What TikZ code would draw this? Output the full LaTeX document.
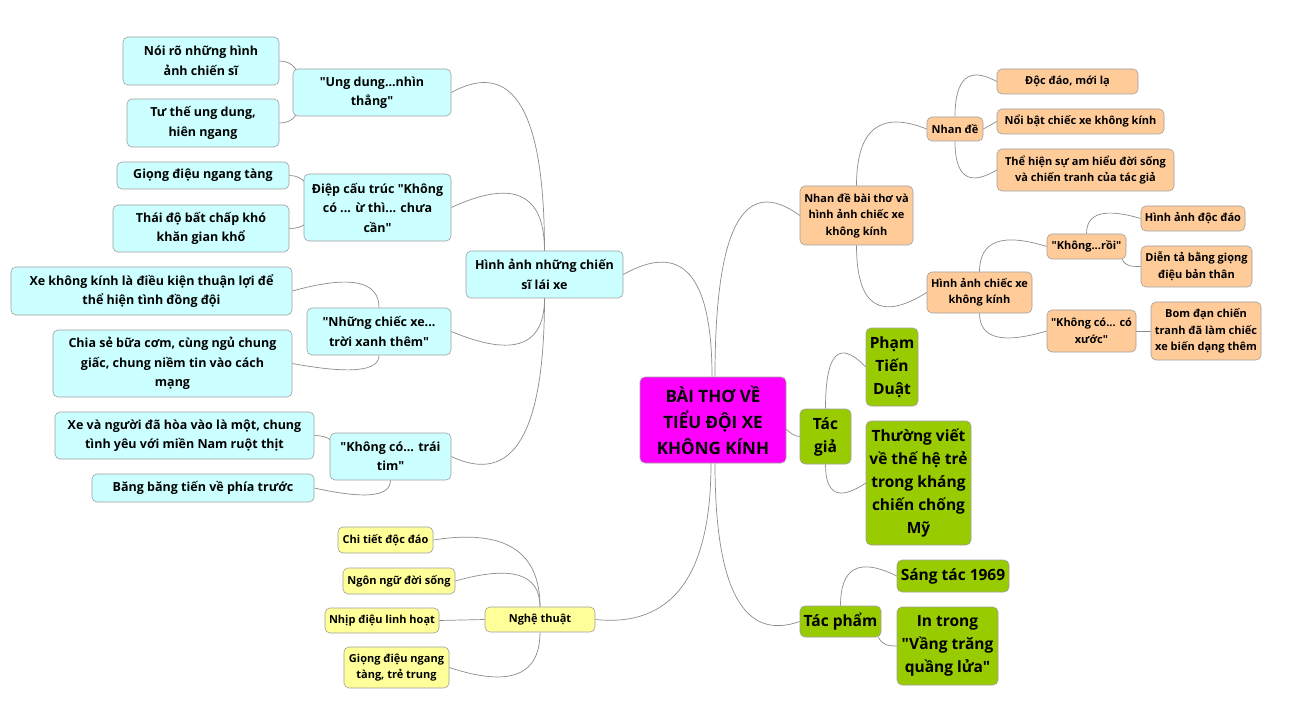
\documentclass[tikz,border=0pt]{standalone}
\usepackage{fontspec}
\setmainfont{Open Sans}[Ligatures=TeXOff]
\usetikzlibrary{calc,backgrounds}
\newcommand{\myq}{\symbol{34}}
\definecolor{cblue}{HTML}{CCFFFF}
\definecolor{corange}{HTML}{FFCC99}
\definecolor{cyellow}{HTML}{FFFF99}
\definecolor{cgreen}{HTML}{99CC00}
\definecolor{cmag}{HTML}{FF00FF}
\definecolor{cborder}{HTML}{A0A0A0}
\definecolor{cline}{HTML}{8C8C8C}
\tikzset{
  box/.style={draw=cborder, line width=0.6pt, rounded corners=5pt, align=center, inner sep=0pt},
  bluebox/.style={box, fill=cblue, font=\fontsize{12.5}{19.5}\selectfont\bfseries},
  orbox/.style={box, fill=corange, font=\fontsize{11}{16.5}\selectfont\bfseries},
  yebox/.style={box, fill=cyellow, font=\fontsize{11}{16.5}\selectfont\bfseries},
  grbox/.style={box, fill=cgreen, font=\fontsize{15.5}{23}\selectfont\bfseries},
  mgbox/.style={box, fill=cmag, font=\fontsize{17}{26}\selectfont\bfseries},
  sz/.style 2 args={minimum width=#1pt, minimum height=#2pt},
  conn/.style={draw=cline, line width=0.7pt},
  cq/.style={to path={let \p1=(\tikztostart), \p2=(\tikztotarget) in
    .. controls (\x1,{\y1+0.6667*(\y2-\y1)-0.6667*(#1pt)})
       and ({\x2+0.6667*(\x1-\x2)},{\y2-0.6667*(#1pt)}) .. (\tikztotarget)}}
}
\begin{document}
\begin{tikzpicture}[x=1pt,y=-1pt]
\useasboundingbox (0,0) rectangle (1302,714);
% central
\node[mgbox, sz={146}{86}] (c) at (713,420) {BÀI THƠ VỀ\\TIỂU ĐỘI XE\\KHÔNG KÍNH};
% left blue branch
\node[bluebox, sz={157}{47}] (hs) at (544.5,274.5) {Hình ảnh những chiến\\sĩ lái xe};
\node[bluebox, sz={158}{47}] (ud) at (372,92.5) {\myq Ung dung...nhìn\\thẳng\myq};
\node[bluebox, sz={156}{48}] (noiro) at (201,61) {Nói rõ những hình\\ảnh chiến sĩ};
\node[bluebox, sz={152}{48}] (tuthe) at (203,123) {Tư thế ung dung,\\hiên ngang};
\node[bluebox, sz={147}{67}] (dc) at (377.5,207.5) {Điệp cấu trúc \myq Không\\có ... ừ thì... chưa\\cần\myq};
\node[bluebox, sz={172}{27}] (giong) at (203,175.5) {Giọng điệu ngang tàng};
\node[bluebox, sz={176}{47}] (thaido) at (201,228.5) {Thái độ bất chấp khó\\khăn gian khổ};
\node[bluebox, sz={144}{47}] (nc) at (379,331.5) {\myq Những chiếc xe...\\trời xanh thêm\myq};
\node[bluebox, sz={281}{48}] (xekk) at (151.5,291) {Xe không kính là điều kiện thuận lợi để\\thể hiện tình đồng đội};
\node[bluebox, sz={239}{67}] (chiase) at (172.5,363.5) {Chia sẻ bữa cơm, cùng ngủ chung\\giấc, chung niềm tin vào cách\\mạng};
\node[bluebox, sz={121}{47}] (kt) at (390.5,456.5) {\myq Không có... trái\\tim\myq};
\node[bluebox, sz={259}{47}] (xevn) at (184.5,435.5) {Xe và người đã hòa vào là một, chung\\tình yêu với miền Nam ruột thịt};
\node[bluebox, sz={222}{28}] (bang) at (203,488) {Băng băng tiến về phía trước};
% yellow branch
\node[yebox, sz={110}{25}] (nt) at (540,619.5) {Nghệ thuật};
\node[yebox, sz={95}{26}] (ct) at (385.5,540) {Chi tiết độc đáo};
\node[yebox, sz={112}{26}] (nn) at (399,581) {Ngôn ngữ đời sống};
\node[yebox, sz={114}{25}] (nh) at (382,620.5) {Nhịp điệu linh hoạt};
\node[yebox, sz={105}{41}] (gt) at (396.5,667.5) {Giọng điệu ngang\\tàng, trẻ trung};
% orange branch
\node[orbox, sz={113}{59}] (nb) at (856.5,215.5) {Nhan đề bài thơ và\\hình ảnh chiếc xe\\không kính};
\node[orbox, sz={56}{24}] (nd) at (955,129) {Nhan đề};
\node[orbox, sz={141}{25}] (dd) at (1067.5,81.5) {Độc đáo, mới lạ};
\node[orbox, sz={167}{25}] (nbat) at (1080.5,121.5) {Nổi bật chiếc xe không kính};
\node[orbox, sz={177}{42}] (th) at (1085.5,170) {Thể hiện sự am hiểu đời sống\\và chiến tranh của tác giả};
\node[orbox, sz={105}{41}] (hx) at (979.5,292.5) {Hình ảnh chiếc xe\\không kính};
\node[orbox, sz={79}{25}] (kr) at (1086.5,246.5) {\myq Không...rồi\myq};
\node[orbox, sz={104}{25}] (ha) at (1193,218.5) {Hình ảnh độc đáo};
\node[orbox, sz={111}{41}] (dt) at (1196.5,266.5) {Diễn tả bằng giọng\\điệu bản thân};
\node[orbox, sz={89}{42}] (kx) at (1091.5,331) {\myq Không có... có\\xước\myq};
\node[orbox, sz={110}{58}] (bd) at (1206,331) {Bom đạn chiến\\tranh đã làm chiếc\\xe biến dạng thêm};
% green branch
\node[grbox, sz={51}{55}] (tg) at (825.5,436.5) {Tác\\giả};
\node[grbox, sz={52}{78}] (pt) at (892,367) {Phạm\\Tiến\\Duật};
\node[grbox, sz={105}{124}] (tv) at (918.5,483) {Thường viết\\về thế hệ trẻ\\trong kháng\\chiến chống\\Mỹ};
\node[grbox, sz={81}{31}] (tp) at (840.5,621.5) {Tác phẩm};
\node[grbox, sz={112}{32}] (st) at (953,576) {Sáng tác 1969};
\node[grbox, sz={101}{78}] (it) at (947.5,646) {In trong\\\myq Vầng trăng\\quầng lửa\myq};
% connector points
\coordinate (ct1) at ($(c.north)+(-1,0)$);
\coordinate (ct2) at ($(c.north)+(2,0)$);
\coordinate (cb1) at ($(c.south)+(-2,0)$);
\coordinate (cb2) at ($(c.south)+(2,0)$);
\coordinate (ce) at ($(c.east)+(-30,0)$);
\coordinate (udin) at ($(ud.west)+(8,0)$);
\coordinate (dcin) at ($(dc.west)+(8,0)$);
\coordinate (ktin) at ($(kt.west)+(8,0)$);
\coordinate (krse) at ($(kr.south east)+(-4,0)$);
\coordinate (tpse) at ($(tp.south east)+(-3,0)$);
\begin{scope}[on background layer]
\fill[white] (0,0) rectangle (1302,714);
\draw[conn] (ct1) to[cq=-50] (hs.east);
\draw[conn] (ct2) to[cq=-62] (nb.west);
\draw[conn] (cb1) to[cq=12] (nt.east);
\draw[conn] (cb2) to[cq=30] (tp.west);
\draw[conn] (ce) .. controls +(30,0) and +(-12,0) .. (tg.west);
% blue
\draw[conn] (hs.north) to[cq=-51] (ud.east);
\draw[conn] (hs.north) to[cq=-43] (dc.east);
\draw[conn] (hs.south) to[cq=39] (nc.east);
\draw[conn] (hs.south) to[cq=44] (kt.east);
\draw[conn] (noiro.east) .. controls +(14,0) and +(0,-22) .. (udin);
\draw[conn] (tuthe.east) .. controls +(14,0) and +(0,22) .. (udin);
\draw[conn] (giong.east) .. controls +(14,0) and +(0,-22) .. (dcin);
\draw[conn] (thaido.east) .. controls +(14,0) and +(0,15) .. (dcin);
\draw[conn] (nc.north) to[cq=-24] (xekk.east);
\draw[conn] (nc.south) to[cq=16] (chiase.east);
\draw[conn] (xevn.east) .. controls +(14,0) and +(0,-15) .. (ktin);
\draw[conn] (kt.south) to[cq=17] (bang.east);
% yellow
\draw[conn] (nt.north) to[cq=-17] (ct.east);
\draw[conn] (nt.north) to[cq=-24] (nn.east);
\draw[conn] (nt.west) -- (nh.east);
\draw[conn] (nt.south) to[cq=30] (gt.east);
% orange
\draw[conn] (nb.north) to[cq=-28] (nd.west);
\draw[conn] (nb.south) to[cq=44] (hx.west);
\draw[conn] (nd.north) to[cq=-23] (dd.west);
\draw[conn] (nd.east) -- (nbat.west);
\draw[conn] (nd.south) to[cq=25] (th.west);
\draw[conn] (hx.north) to[cq=-21] (kr.west);
\draw[conn] (hx.south) to[cq=20] (kx.west);
\draw[conn] (kr.north) to[cq=-16] (ha.west);
\draw[conn] (krse) .. controls +(3,7) and +(-10,0) .. (dt.west);
\draw[conn] (kx.east) -- (bd.west);
% green
\draw[conn] (tg.north) to[cq=-42] (pt.west);
\draw[conn] (tg.south) to[cq=27] (tv.west);
\draw[conn] (tp.north) to[cq=-28] (st.west);
\draw[conn] (tpse) .. controls +(4,7) and +(-10,0) .. (it.west);
\end{scope}
\end{tikzpicture}
\end{document}
